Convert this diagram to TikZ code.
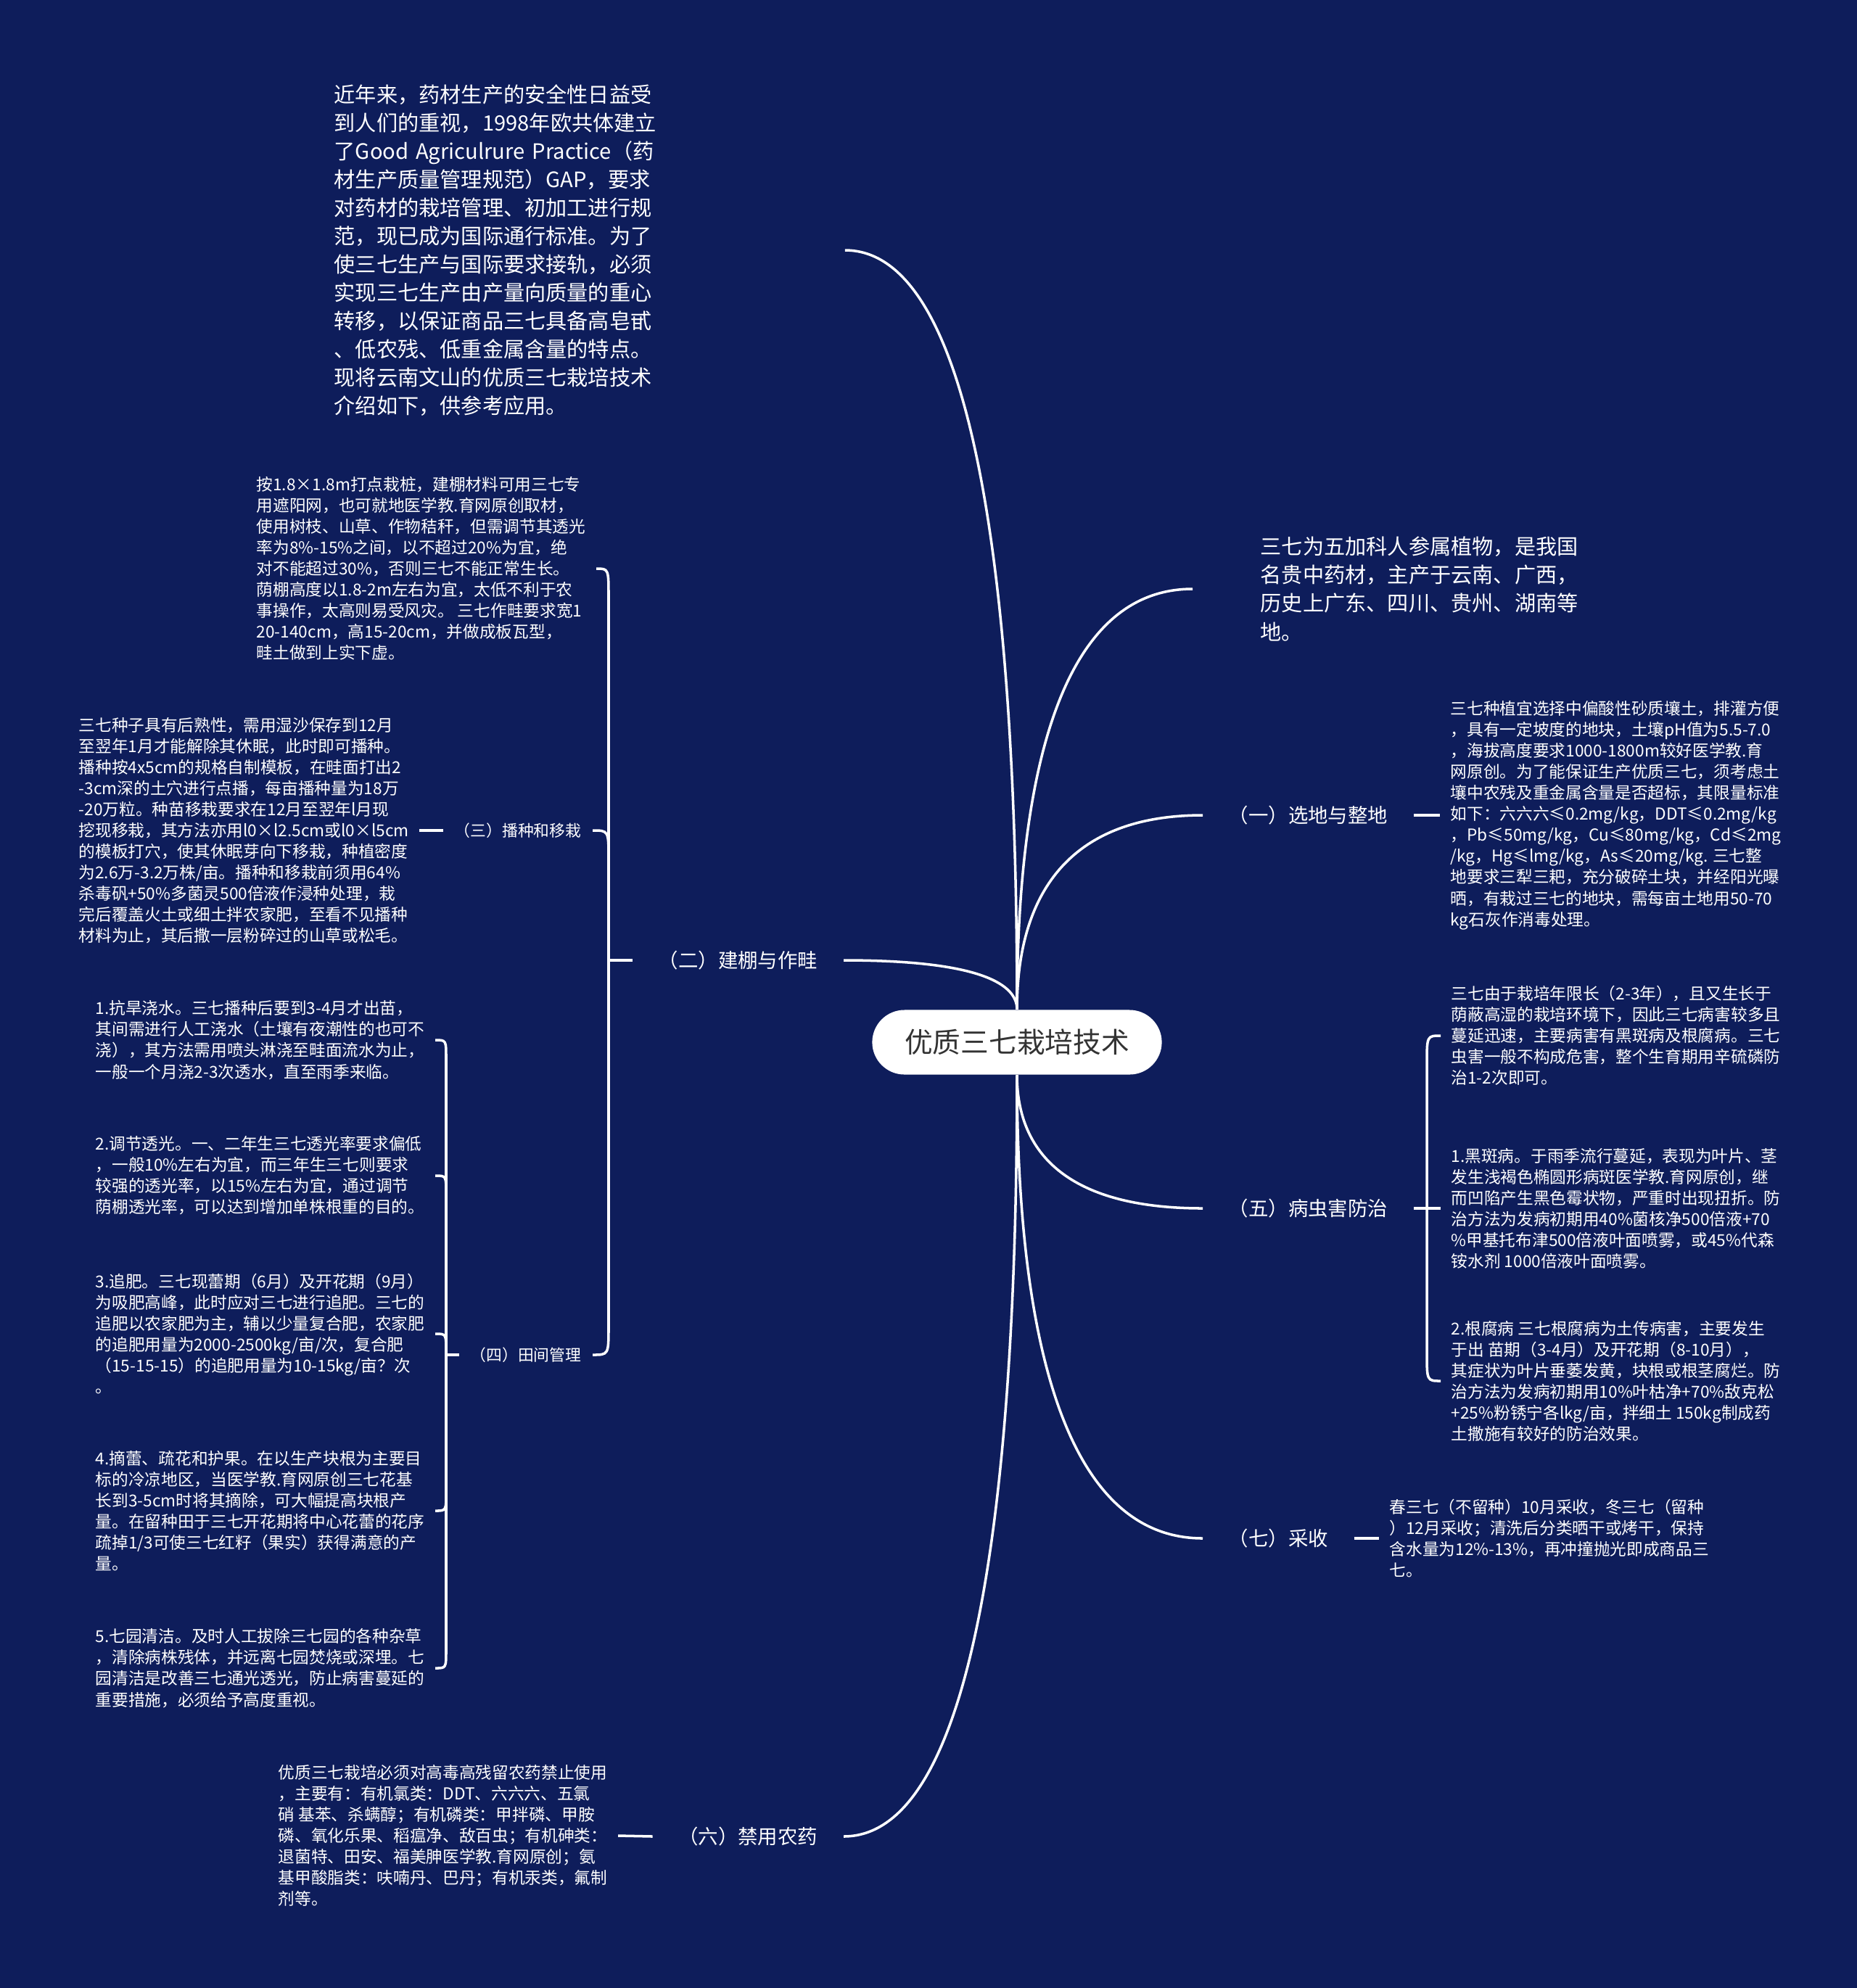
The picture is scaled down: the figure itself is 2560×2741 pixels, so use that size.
\documentclass[tikz,border=0pt]{standalone}
\usepackage{fontspec}
\setmainfont{Noto Sans CJK SC}
\usetikzlibrary{calc}
\definecolor{navy}{HTML}{0E1D5B}
\definecolor{inkgray}{HTML}{333333}

\begin{document}
\begin{tikzpicture}[x=0.01cm, y=-0.01cm,
  wire/.style={white, line width=1pt},
  hub/.style={fill=white, rounded corners=0.445cm, minimum width=3.99cm, minimum height=0.89cm, text=inkgray, font=\fontsize{11}{13}\selectfont},
  head/.style={text=white, inner xsep=0.35cm, inner ysep=0.1cm, font=\fontsize{7.8}{10}\selectfont},
  twig/.style={text=white, inner xsep=0.15cm, inner ysep=0.1cm, font=\fontsize{6.2}{8}\selectfont},
  note/.style={text=white, align=left, inner xsep=0.14cm, inner ysep=0pt, font=\fontsize{6.45}{8.26}\selectfont},
  lead/.style={note, font=\fontsize{8.3}{11.1}\selectfont}]

\useasboundingbox (0,0) rectangle (2560,2741);
\fill[navy] (0,0) rectangle (2560,2741);

% centre
\node[hub] (hub) at (1402,1437) {优质三七栽培技术};

% right side
\node[lead, anchor=west, inner xsep=0.93cm] (plant) at (1644,812) {三七为五加科人参属植物，是我国\\名贵中药材，主产于云南、广西，\\历史上广东、四川、贵州、湖南等\\地。};

\node[head, anchor=west] (sel) at (1658,1124) {（一）选地与整地};
\node[note, anchor=west] (soil) at (1985,1124) {三七种植宜选择中偏酸性砂质壤土，排灌方便\\，具有一定坡度的地块，土壤pH值为5.5-7.0\\，海拔高度要求1000-1800m较好医学教.育\\网原创。为了能保证生产优质三七，须考虑土\\壤中农残及重金属含量是否超标，其限量标准\\如下：六六六≤0.2mg/kg，DDT≤0.2mg/kg\\，Pb≤50mg/kg，Cu≤80mg/kg，Cd≤2mg\\/kg，Hg≤lmg/kg，As≤20mg/kg. 三七整\\地要求三犁三耙，充分破碎土块，并经阳光曝\\晒，有栽过三七的地块，需每亩土地用50-70\\kg石灰作消毒处理。};

\node[head, anchor=west] (pest) at (1658,1666) {（五）病虫害防治};
\coordinate (pestspine) at (1967,1666);
\node[note, anchor=west] (pestA) at (1986,1428) {三七由于栽培年限长（2-3年），且又生长于\\荫蔽高湿的栽培环境下，因此三七病害较多且\\蔓延迅速，主要病害有黑斑病及根腐病。三七\\虫害一般不构成危害，整个生育期用辛硫磷防\\治1-2次即可。};
\node[note, anchor=west] (pestB) at (1986,1666) {1.黑斑病。于雨季流行蔓延，表现为叶片、茎\\发生浅褐色椭圆形病斑医学教.育网原创，继\\而凹陷产生黑色霉状物，严重时出现扭折。防\\治方法为发病初期用40\%菌核净500倍液+70\\\%甲基托布津500倍液叶面喷雾，或45\%代森\\铵水剂 1000倍液叶面喷雾。};
\node[note, anchor=west] (pestC) at (1986,1904) {2.根腐病 三七根腐病为土传病害，主要发生\\于出 苗期（3-4月）及开花期（8-10月），\\其症状为叶片垂萎发黄，块根或根茎腐烂。防\\治方法为发病初期用10\%叶枯净+70\%敌克松\\+25\%粉锈宁各lkg/亩，拌细土 150kg制成药\\土撒施有较好的防治效果。};

\node[head, anchor=west] (harv) at (1658,2121) {（七）采收};
\node[note, anchor=west] (harvtxt) at (1901,2121) {春三七（不留种）10月采收，冬三七（留种\\）12月采收；清洗后分类晒干或烤干，保持\\含水量为12\%-13\%，再冲撞抛光即成商品三\\七。};

% left side
\node[lead, anchor=west, inner xsep=0pt, text width=7.03cm] (intro) at (460,345) {近年来，药材生产的安全性日益受\\到人们的重视，1998年欧共体建立\\了Good Agriculrure Practice（药\\材生产质量管理规范）GAP，要求\\对药材的栽培管理、初加工进行规\\范，现已成为国际通行标准。为了\\使三七生产与国际要求接轨，必须\\实现三七生产由产量向质量的重心\\转移，以保证商品三七具备高皂甙\\、低农残、低重金属含量的特点。\\现将云南文山的优质三七栽培技术\\介绍如下，供参考应用。};

\node[head, anchor=east] (shed) at (1163,1324) {（二）建棚与作畦};
\coordinate (shedspine) at (839,1324);
\node[note, anchor=west] (shedtxt) at (339,784) {按1.8×1.8m打点栽桩，建棚材料可用三七专\\用遮阳网，也可就地医学教.育网原创取材，\\使用树枝、山草、作物秸秆，但需调节其透光\\率为8\%-15\%之间，以不超过20\%为宜，绝\\对不能超过30\%，否则三七不能正常生长。\\荫棚高度以1.8-2m左右为宜，太低不利于农\\事操作，太高则易受风灾。 三七作畦要求宽1\\20-140cm，高15-20cm，并做成板瓦型，\\畦土做到上实下虚。};

\node[twig, anchor=east] (sow) at (817,1145) {（三）播种和移栽};
\node[note, anchor=west] (sowtxt) at (94,1145) {三七种子具有后熟性，需用湿沙保存到12月\\至翌年1月才能解除其休眠，此时即可播种。\\播种按4x5cm的规格自制模板，在畦面打出2\\-3cm深的土穴进行点播，每亩播种量为18万\\-20万粒。种苗移栽要求在12月至翌年l月现\\挖现移栽，其方法亦用l0×l2.5cm或l0×l5cm\\的模板打穴，使其休眠芽向下移栽，种植密度\\为2.6万-3.2万株/亩。播种和移栽前须用64\%\\杀毒矾+50\%多菌灵500倍液作浸种处理，栽\\完后覆盖火土或细土拌农家肥，至看不见播种\\材料为止，其后撒一层粉碎过的山草或松毛。};

\node[twig, anchor=east] (field) at (817,1868) {（四）田间管理};
\coordinate (fieldspine) at (615,1868);
\node[note, anchor=west] (f1) at (117,1434) {1.抗旱浇水。三七播种后要到3-4月才出苗，\\其间需进行人工浇水（土壤有夜潮性的也可不\\浇），其方法需用喷头淋浇至畦面流水为止，\\一般一个月浇2-3次透水，直至雨季来临。};
\node[note, anchor=west] (f2) at (117,1621) {2.调节透光。一、二年生三七透光率要求偏低\\，一般10\%左右为宜，而三年生三七则要求\\较强的透光率，以15\%左右为宜，通过调节\\荫棚透光率，可以达到增加单株根重的目的。};
\node[note, anchor=west] (f3) at (117,1839) {3.追肥。三七现蕾期（6月）及开花期（9月）\\为吸肥高峰，此时应对三七进行追肥。三七的\\追肥以农家肥为主，辅以少量复合肥，农家肥\\的追肥用量为2000-2500kg/亩/次，复合肥\\（15-15-15）的追肥用量为10-15kg/亩？次\\。};
\node[note, anchor=west] (f4) at (117,2083) {4.摘蕾、疏花和护果。在以生产块根为主要目\\标的冷凉地区，当医学教.育网原创三七花基\\长到3-5cm时将其摘除，可大幅提高块根产\\量。在留种田于三七开花期将中心花蕾的花序\\疏掉1/3可使三七红籽（果实）获得满意的产\\量。};
\node[note, anchor=west] (f5) at (117,2300) {5.七园清洁。及时人工拔除三七园的各种杂草\\，清除病株残体，并远离七园焚烧或深埋。七\\园清洁是改善三七通光透光，防止病害蔓延的\\重要措施，必须给予高度重视。};

\node[head, anchor=east] (ban) at (1163,2532) {（六）禁用农药};
\node[note, anchor=west] (bantxt) at (369,2531) {优质三七栽培必须对高毒高残留农药禁止使用\\，主要有：有机氯类：DDT、六六六、五氯\\硝 基苯、杀螨醇；有机磷类：甲拌磷、甲胺\\磷、氧化乐果、稻瘟净、敌百虫；有机砷类：\\退菌特、田安、福美胂医学教.育网原创；氨\\基甲酸脂类：呋喃丹、巴丹；有机汞类，氟制\\剂等。};

% main branches
\begin{scope}[wire]
  \draw let \p1=(hub.north), \p2=(intro.east) in (\p1) .. controls (\x1,{0.5*(\y1+\y2)}) and ({0.8*\x1+0.2*\x2},\y2) .. (\p2);
  \draw let \p1=(hub.north), \p2=(shed.east) in (\p1) .. controls (\x1,{0.5*(\y1+\y2)}) and ({0.8*\x1+0.2*\x2},\y2) .. (\p2);
  \draw let \p1=(hub.south), \p2=(ban.east) in (\p1) .. controls (\x1,{0.5*(\y1+\y2)}) and ({0.8*\x1+0.2*\x2},\y2) .. (\p2);
  \draw let \p1=(hub.north), \p2=(plant.west) in (\p1) .. controls (\x1,{0.5*(\y1+\y2)}) and ({0.8*\x1+0.2*\x2},\y2) .. (\p2);
  \draw let \p1=(hub.north), \p2=(sel.west) in (\p1) .. controls (\x1,{0.5*(\y1+\y2)}) and ({0.8*\x1+0.2*\x2},\y2) .. (\p2);
  \draw let \p1=(hub.south), \p2=(pest.west) in (\p1) .. controls (\x1,{0.5*(\y1+\y2)}) and ({0.8*\x1+0.2*\x2},\y2) .. (\p2);
  \draw let \p1=(hub.south), \p2=(harv.west) in (\p1) .. controls (\x1,{0.5*(\y1+\y2)}) and ({0.8*\x1+0.2*\x2},\y2) .. (\p2);
\end{scope}

% single children
\begin{scope}[wire]
  \draw (sel.east) -- (soil.west);
  \draw (harv.east) -- (harvtxt.west);
  \draw (sowtxt.east) -- (sow.west);
  \draw (bantxt.east) -- (ban.west);
\end{scope}

% brackets
\begin{scope}[wire]
  \draw (shed.west) -- (shedspine);
  \draw (shedtxt.east) .. controls (shedspine |- shedtxt.east) .. ([yshift=-0.4cm]shedspine |- shedtxt.east) -- (shedspine);
  \draw (sow.east) .. controls (shedspine |- sow.east) .. ([yshift=-0.4cm]shedspine |- sow.east) -- (shedspine);
  \draw (field.east) .. controls (shedspine |- field.east) .. ([yshift=0.4cm]shedspine |- field.east) -- (shedspine);

  \draw (field.west) -- (fieldspine);
  \draw (f1.east) .. controls (fieldspine |- f1.east) .. ([yshift=-0.25cm]fieldspine |- f1.east) -- (fieldspine);
  \draw (f2.east) .. controls (fieldspine |- f2.east) .. ([yshift=-0.25cm]fieldspine |- f2.east) -- (fieldspine);
  \draw (f3.east) .. controls (fieldspine |- f3.east) .. ([yshift=-0.25cm]fieldspine |- f3.east) -- (fieldspine);
  \draw (f4.east) .. controls (fieldspine |- f4.east) .. ([yshift=0.25cm]fieldspine |- f4.east) -- (fieldspine);
  \draw (f5.east) .. controls (fieldspine |- f5.east) .. ([yshift=0.25cm]fieldspine |- f5.east) -- (fieldspine);

  \draw (pest.east) -- (pestB.west);
  \draw (pestA.west) .. controls (pestspine |- pestA.west) .. ([yshift=-0.4cm]pestspine |- pestA.west) -- (pestspine);
  \draw (pestC.west) .. controls (pestspine |- pestC.west) .. ([yshift=0.4cm]pestspine |- pestC.west) -- (pestspine);
\end{scope}
\end{tikzpicture}
\end{document}
